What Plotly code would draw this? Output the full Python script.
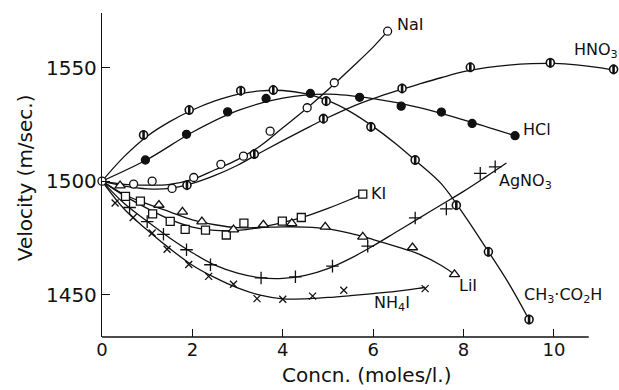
import plotly.graph_objects as go

# ---- measured points (concentration, velocity) ----
nai_x = [0.70, 1.11, 1.55, 2.03, 2.63, 3.13, 3.72, 4.54, 5.14, 6.32]
nai_y = [1498.7, 1500.0, 1496.8, 1501.6, 1507.4, 1511.0, 1522.0, 1532.3, 1543.3, 1566.0]
hno3_x = [1.88, 3.37, 4.90, 6.64, 8.15, 9.92, 11.32]
hno3_y = [1498.2, 1511.9, 1527.5, 1540.8, 1550.1, 1552.1, 1549.2]
hcl_x = [0.96, 1.87, 2.78, 3.63, 4.61, 5.70, 6.62, 7.51, 8.19, 9.14]
hcl_y = [1509.3, 1520.6, 1530.5, 1536.4, 1538.6, 1536.9, 1533.0, 1530.4, 1525.4, 1520.0]
ac_x = [0.92, 1.93, 3.07, 3.79, 4.96, 5.95, 6.93, 7.84, 8.55, 9.45]
ac_y = [1520.3, 1531.3, 1539.8, 1540.1, 1535.2, 1523.9, 1509.3, 1489.4, 1468.9, 1439.1]
ki_x = [0.52, 0.85, 1.12, 1.51, 1.84, 2.29, 2.75, 3.14, 3.99, 4.41, 5.77]
ki_y = [1493.3, 1491.2, 1485.6, 1482.3, 1478.8, 1478.4, 1476.3, 1481.5, 1482.4, 1484.0, 1494.3]
lii_x = [0.40, 1.26, 1.78, 2.21, 2.91, 3.57, 4.20, 4.94, 5.77, 6.87, 7.80]
lii_y = [1498.0, 1489.5, 1486.5, 1482.2, 1478.7, 1480.8, 1481.4, 1479.9, 1475.5, 1470.8, 1459.0]
ag_x = [0.61, 1.00, 1.36, 1.87, 2.40, 3.52, 4.28, 5.10, 5.88, 6.93, 7.62, 8.37, 8.70]
ag_y = [1488.4, 1482.2, 1476.6, 1469.8, 1463.2, 1457.4, 1457.9, 1462.6, 1471.4, 1483.8, 1487.8, 1503.4, 1506.3]
nh4_x = [0.29, 0.69, 1.11, 1.44, 1.92, 2.36, 2.91, 3.43, 4.00, 4.66, 5.35, 7.15]
nh4_y = [1490.4, 1484.0, 1477.2, 1470.0, 1463.3, 1458.1, 1454.6, 1448.3, 1448.0, 1449.4, 1452.0, 1452.7]
origin_x = [0]
origin_y = [1500]

# ---- smoothed curves ----
nai_cx = [0, 0.5, 1.0, 1.5, 2.0, 2.5, 3.0, 3.5, 4.0, 4.5, 5.0, 5.5, 6.0, 6.32]
nai_cy = [1500, 1498.6, 1498.2, 1498.6, 1500.8, 1505.0, 1509.5, 1515.5, 1523.5, 1531.5, 1540.2, 1549.5, 1559.0, 1566.0]
hno3_cx = [0, 0.5, 1.0, 1.5, 2.0, 2.5, 3.0, 3.5, 4.0, 4.5, 5.0, 5.5, 6.0, 6.5, 7.0, 7.5, 8.0, 8.5, 9.0, 9.5, 10.0, 10.5, 11.0, 11.4]
hno3_cy = [1500, 1497.8, 1496.6, 1496.8, 1499.0, 1502.5, 1507.0, 1512.5, 1517.8, 1523.0, 1528.0, 1532.5, 1536.3, 1539.6, 1542.6, 1545.5, 1548.2, 1550.0, 1551.1, 1551.7, 1551.8, 1551.2, 1550.0, 1548.6]
hcl_cx = [0, 1, 2, 3, 4, 5, 6, 7, 8, 9.14]
hcl_cy = [1500, 1509.5, 1521.5, 1531.0, 1536.5, 1538.3, 1536.3, 1532.5, 1527.0, 1520.0]
ac_cx = [0, 0.5, 1.0, 1.5, 2.0, 2.5, 3.0, 3.5, 4.0, 4.5, 5.0, 5.5, 6.0, 6.5, 7.0, 7.5, 8.0, 8.5, 9.0, 9.45]
ac_cy = [1500, 1511.0, 1519.8, 1526.2, 1531.3, 1535.3, 1538.2, 1539.7, 1539.9, 1538.5, 1535.4, 1530.5, 1524.0, 1516.5, 1508.0, 1499.0, 1485.5, 1470.5, 1455.0, 1439.0]
ki_cx = [0, 0.5, 1.0, 1.5, 2.0, 2.5, 3.0, 3.5, 4.0, 4.5, 5.0, 5.5, 5.77]
ki_cy = [1500, 1493.5, 1488.0, 1483.2, 1479.8, 1478.3, 1478.3, 1479.6, 1481.8, 1484.5, 1488.0, 1492.0, 1494.3]
lii_cx = [0, 0.5, 1.0, 1.5, 2.0, 2.5, 3.0, 3.5, 4.0, 4.5, 5.0, 5.5, 6.0, 6.5, 7.0, 7.5, 7.8]
lii_cy = [1500, 1494.0, 1490.0, 1486.5, 1483.0, 1480.8, 1479.5, 1479.6, 1479.9, 1479.8, 1479.0, 1477.0, 1474.3, 1471.3, 1468.0, 1463.0, 1459.0]
ag_cx = [0, 0.5, 1.0, 1.5, 2.0, 2.5, 3.0, 3.5, 4.0, 4.5, 5.0, 5.5, 6.0, 6.5, 7.0, 7.5, 8.0, 8.5, 8.95]
ag_cy = [1500, 1490.0, 1482.3, 1475.0, 1468.5, 1463.0, 1459.5, 1457.5, 1457.2, 1458.5, 1461.5, 1466.0, 1471.5, 1477.5, 1483.5, 1489.5, 1495.5, 1502.0, 1508.0]
nh4_cx = [0, 0.5, 1.0, 1.5, 2.0, 2.5, 3.0, 3.5, 4.0, 4.5, 5.0, 5.5, 6.0, 6.5, 7.0, 7.15]
nh4_cy = [1500, 1487.5, 1478.5, 1470.3, 1463.0, 1457.5, 1453.0, 1449.8, 1448.2, 1448.2, 1448.8, 1449.6, 1450.5, 1451.5, 1452.8, 1453.3]

# ---- labels ----
labels = ["NaI", "HNO<sub>3</sub>", "HCl", "AgNO<sub>3</sub>", "KI", "LiI", "NH<sub>4</sub>I", "CH<sub>3</sub>·CO<sub>2</sub>H"]
label_x = [6.49, 10.40, 9.28, 8.75, 5.91, 7.86, 5.98, 9.30]
label_y = [1569.0, 1557.5, 1522.9, 1500.0, 1494.7, 1454.2, 1446.3, 1449.8]

x_ticks = [0, 2, 4, 6, 8, 10]
y_ticks = [1450, 1500, 1550]

FONT = "DejaVu Sans"
BLACK = "#111111"

fig = go.Figure()

for cx, cy in [(nai_cx, nai_cy), (hno3_cx, hno3_cy), (hcl_cx, hcl_cy), (ac_cx, ac_cy),
               (ki_cx, ki_cy), (lii_cx, lii_cy), (ag_cx, ag_cy), (nh4_cx, nh4_cy)]:
    fig.add_trace(go.Scatter(x=cx, y=cy, mode="lines",
                             line=dict(color=BLACK, width=1.3, shape="spline", smoothing=1.0),
                             showlegend=False, hoverinfo="skip"))

def mk(x, y, symbol, size, fill="white", lw=1.3):
    fig.add_trace(go.Scatter(x=x, y=y, mode="markers", showlegend=False, cliponaxis=False,
                             marker=dict(symbol=symbol, size=size, color=fill,
                                         line=dict(color=BLACK, width=lw))))

mk(nai_x, nai_y, "circle", 8)
mk(origin_x, origin_y, "circle", 8)
mk(hcl_x, hcl_y, "circle", 8, fill=BLACK)
mk(hno3_x, hno3_y, "circle", 8, lw=1.6)
mk(hno3_x, hno3_y, "line-ns", 7, lw=2.6)
mk(ac_x, ac_y, "circle", 8, lw=1.6)
mk(ac_x, ac_y, "line-ns", 7, lw=2.6)
mk(ki_x, ki_y, "square", 8)
mk(lii_x, lii_y, "triangle-up", 9)
mk(ag_x, ag_y, "cross-thin", 9, fill=BLACK, lw=1.3)
mk(nh4_x, nh4_y, "x-thin", 7, fill=BLACK, lw=1.3)

for t, lx, ly in zip(labels, label_x, label_y):
    fig.add_annotation(x=lx, y=ly, text=t, showarrow=False, xanchor="left", yanchor="middle",
                       font=dict(family=FONT, size=16, color=BLACK))

# x axis line stops at ~10.77
fig.add_shape(type="line", x0=0, x1=10.77, y0=0, y1=0, xref="x", yref="paper",
              line=dict(color=BLACK, width=1.3))

fig.add_annotation(xref="paper", yref="paper", x=0.5126, y=-0.118, text="Concn. (moles/l.)",
                   showarrow=False, xanchor="center", yanchor="middle",
                   font=dict(family=FONT, size=20, color=BLACK))
fig.add_annotation(xref="paper", yref="paper", x=-0.149, y=0.493, text="Velocity (m/sec.)",
                   showarrow=False, xanchor="center", yanchor="middle", textangle=-90,
                   font=dict(family=FONT, size=20, color=BLACK))

fig.update_layout(
    width=619, height=390,
    margin=dict(l=102, r=0, t=13, b=53),
    paper_bgcolor="white", plot_bgcolor="white",
    xaxis=dict(range=[0, 11.44], tickvals=x_ticks, ticktext=[str(v) for v in x_ticks],
               ticks="inside", ticklen=8, tickwidth=1.2, tickcolor=BLACK,
               showline=False, showgrid=False, zeroline=False,
               tickfont=dict(family=FONT, size=18, color=BLACK)),
    yaxis=dict(range=[1431.4, 1574.0], tickvals=y_ticks, ticktext=[str(v) for v in y_ticks],
               ticks="inside", ticklen=8, tickwidth=1.2, tickcolor=BLACK,
               showline=True, linecolor=BLACK, linewidth=1.3,
               showgrid=False, zeroline=False,
               tickfont=dict(family=FONT, size=20, color=BLACK)),
)

fig.write_html("out.html")
